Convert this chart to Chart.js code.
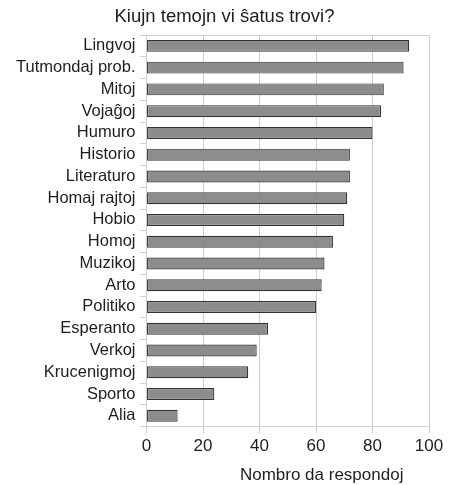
<!DOCTYPE html>
<html>
<head>
<meta charset="utf-8">
<script src="https://cdn.jsdelivr.net/npm/chart.js@4/dist/chart.umd.min.js"></script>
<style>
  html, body { margin: 0; padding: 0; background: #fff; }
  #wrap { width: 449px; height: 485px; }
</style>
</head>
<body>
<div id="wrap"><canvas id="temojChart"></canvas></div>
<script>
const categories = ["Lingvoj", "Tutmondaj prob.", "Mitoj", "Vojaĝoj", "Humuro", "Historio", "Literaturo",
    "Homaj rajtoj", "Hobio", "Homoj", "Muzikoj", "Arto", "Politiko", "Esperanto", "Verkoj",
    "Krucenigmoj", "Sporto", "Alia"];
const respondoj = [93, 91, 84, 83, 80, 72, 72, 71, 70, 66, 63, 62, 60, 43, 39, 36, 24, 11];
const xTicks = [0, 20, 40, 60, 80, 100];
const chartTitle = "Kiujn temojn vi ŝatus trovi?";
const axisTitle = "Nombro da respondoj";

const fontFam = "'Liberation Sans', Arial, Helvetica, sans-serif";
const textColor = "#1e1e1e";

// title centred on the canvas, top border, axis title right of centre like the original
const framePlugin = {
    id: "frame",
    afterDraw(chart) {
        const ctx = chart.ctx;
        const a = chart.chartArea;
        ctx.save();
        ctx.strokeStyle = "#cfcfcf";
        ctx.lineWidth = 1;
        ctx.beginPath();
        ctx.moveTo(a.left, a.top + 0.5);
        ctx.lineTo(a.right, a.top + 0.5);
        ctx.stroke();
        ctx.fillStyle = textColor;
        ctx.textAlign = "center";
        ctx.textBaseline = "middle";
        ctx.font = "18.5px " + fontFam;
        ctx.fillText(chartTitle, chart.width / 2, 17);
        ctx.font = "17px " + fontFam;
        ctx.fillText(axisTitle, a.left + (a.right - a.left) * 0.62, 475);
        ctx.restore();
    }
};

const ctx = document.getElementById("temojChart").getContext("2d");
new Chart(ctx, {
    type: "bar",
    data: {
        labels: categories,
        datasets: [{
            label: axisTitle,
            data: respondoj,
            backgroundColor: "#8c8c8e",
            borderColor: "#333",
            borderWidth: 1.2,
            borderSkipped: false,
            barPercentage: 0.55,
            categoryPercentage: 1
        }]
    },
    options: {
        indexAxis: "y",
        responsive: true,
        maintainAspectRatio: false,
        animation: false,
        layout: { padding: { left: 12, right: 20, top: 35, bottom: 25 } },
        plugins: {
            legend: { display: false },
            tooltip: { enabled: false },
            title: { display: false }
        },
        scales: {
            x: {
                min: 0,
                max: 100,
                afterBuildTicks: axis => { axis.ticks = xTicks.map(v => ({ value: v })); },
                grid: { color: "#cfcfcf", tickLength: 7, drawTicks: true },
                border: { color: "#cfcfcf" },
                ticks: { color: textColor, font: { family: fontFam, size: 17 }, padding: 3 }
            },
            y: {
                grid: { drawOnChartArea: false, color: "#cfcfcf", tickLength: 7, offset: true },
                border: { color: "#cfcfcf" },
                ticks: { color: textColor, font: { family: fontFam, size: 16.5 }, padding: 4, autoSkip: false }
            }
        }
    },
    plugins: [framePlugin]
});
</script>
</body>
</html>
